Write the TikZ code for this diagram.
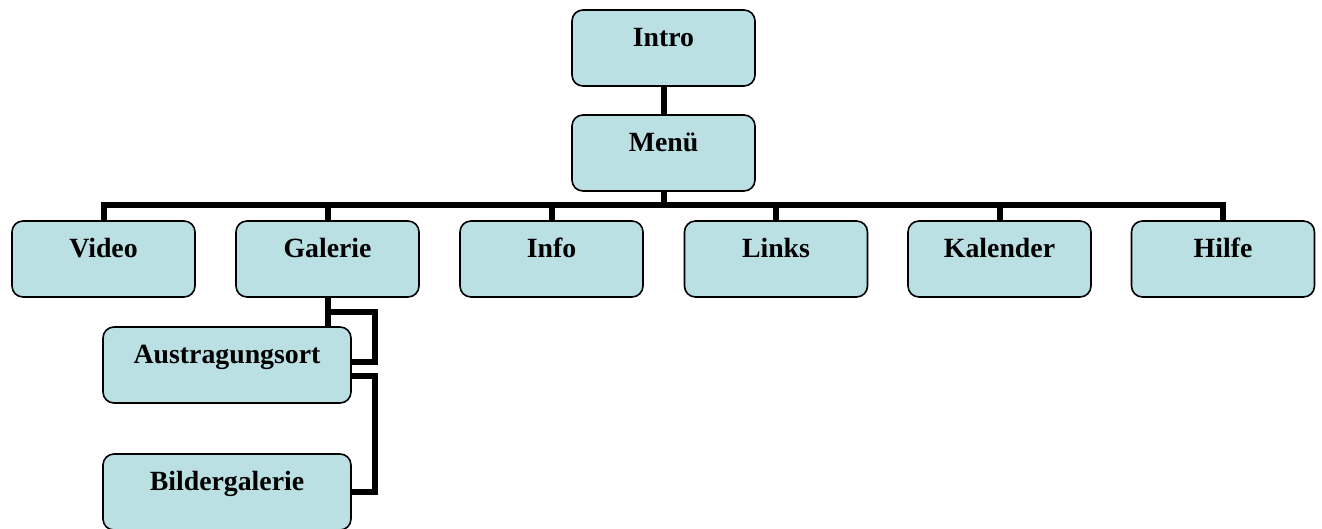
\documentclass[tikz,border=0pt]{standalone}
\usepackage{fontspec}
\setmainfont{Liberation Serif}
\usetikzlibrary{backgrounds}
\definecolor{boxfill}{RGB}{186,224,228}
\begin{document}
\begin{tikzpicture}[x=1pt,y=-1pt,
  box/.style={draw=black,line width=1.6pt,fill=boxfill,rounded corners=11pt,
    minimum width=183pt,inner sep=0pt,text height=36pt,text depth=40pt,
    font=\fontsize{27.8}{30}\selectfont\bfseries},
  widebox/.style={box,minimum width=248pt},
  conn/.style={line width=6pt,line join=miter}]
\useasboundingbox (0,0) rectangle (1322,528);
% nodes
\node[box] (intro) at (663.5,48) {Intro};
\node[box] (menu) at (663.5,153) {Menü};
\node[box] (video) at (103.5,259) {Video};
\node[box] (galerie) at (327.5,259) {Galerie};
\node[box] (info) at (551.5,259) {Info};
\node[box] (links) at (776,259) {Links};
\node[box] (kalender) at (999.5,259) {Kalender};
\node[box] (hilfe) at (1223,259) {Hilfe};
\node[widebox] (aus) at (227,365) {Austragungsort};
\node[widebox] (bild) at (227,492) {Bildergalerie};
\coordinate (bus) at (663.5,205);
\coordinate (g1) at (327.5,312);
\coordinate (rail) at (375,0);
% connectors (behind boxes)
\begin{scope}[on background layer]
\draw[conn] (intro) -- (menu);
\draw[conn] (menu) -- (bus);
\draw[conn] (video.north) -- (video.north |- bus) -- (hilfe.north |- bus) -- (hilfe.north);
\foreach \n in {galerie,info,links,kalender}
  \draw[conn] (\n.north) -- (\n.north |- bus);
\draw[conn] (galerie.south) -- (galerie.south |- aus.north);
\draw[conn] (g1) -- (rail |- g1) -- (rail |- 0,362) -- (aus.east |- 0,362);
\draw[conn] (aus.east |- 0,376) -- (rail |- 0,376) -- (rail |- bild.east) -- (bild.east);
\end{scope}
\end{tikzpicture}
\end{document}
